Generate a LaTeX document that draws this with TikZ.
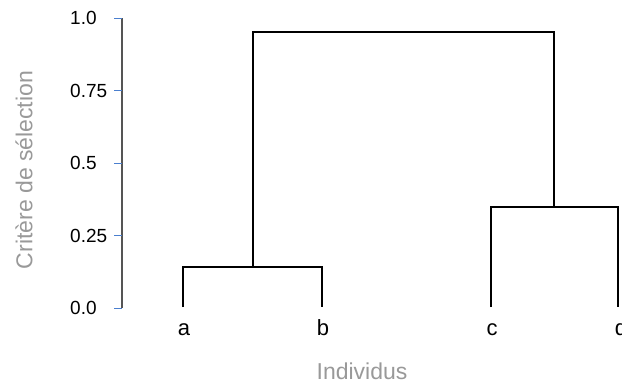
\documentclass[tikz,border=0pt]{standalone}
\usepackage{fontspec}
\setmainfont{Liberation Sans}
\definecolor{axisgray}{HTML}{555555}
\definecolor{tickblue}{HTML}{4A7FCF}
\definecolor{titlegray}{HTML}{999999}
\begin{document}
\begin{tikzpicture}[x=1pt,y=-1pt,
  dend/.style={draw=black,line width=2pt},
  tickmark/.style={draw=tickblue,line width=1pt},
  ticklab/.style={anchor=west,inner sep=0pt,font=\fontsize{19}{19}\selectfont},
  leaflab/.style={anchor=base,inner sep=0pt,font=\fontsize{22}{22}\selectfont},
  axtitle/.style={text=titlegray,inner sep=0pt,font=\fontsize{23}{23}\selectfont}]
\useasboundingbox (0,0) rectangle (622,383);
% axis
\draw[draw=axisgray,line width=1.5pt] (122,18) -- (122,308);
\foreach \yy/\lab in {18/1.0,90.5/0.75,163/0.5,235.5/0.25,308/0.0}{
  \draw[tickmark] (114,\yy) -- (122,\yy);
  \node[ticklab] at (70,\yy) {\lab};
}
% leaves
\coordinate (a) at (183,307);
\coordinate (b) at (322,307);
\coordinate (c) at (491,307);
\coordinate (d) at (618,307);
\coordinate (ab) at (253,267);
\coordinate (cd) at (554,207);
\coordinate (top) at (403,32);
\draw[dend] (a) |- (ab) -| (b);
\draw[dend] (c) |- (cd) -| (d);
\draw[dend] (ab) |- (top) -| (cd);
\node[leaflab] (la) at (184,335) {a};
\node[leaflab] (lb) at (323,335) {b};
\node[leaflab] (lc) at (492,335) {c};
\node[leaflab] (ld) at (621,335) {d};
\node[axtitle,anchor=base] (xt) at (362,379) {Individus};
\node[axtitle,rotate=90] (yt) at (24,170) {Critère de sélection};
\end{tikzpicture}
\end{document}
